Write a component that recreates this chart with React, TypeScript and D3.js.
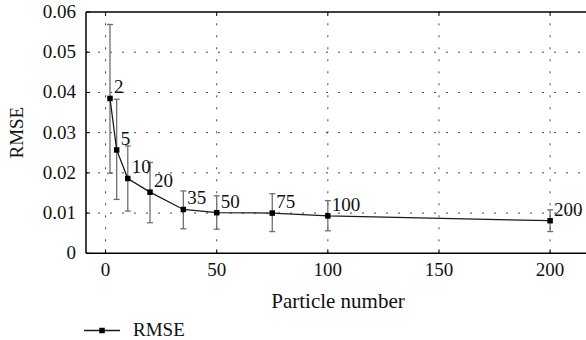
import React from "react";
import * as d3 from "d3";

const particles = [2, 5, 10, 20, 35, 50, 75, 100, 200];
const rmse = [0.0385, 0.0257, 0.0186, 0.0152, 0.0109, 0.0101, 0.01, 0.0093, 0.0081];
const errLow = [0.0199, 0.0134, 0.0105, 0.0076, 0.0061, 0.006, 0.0054, 0.0056, 0.0054];
const errHigh = [0.0569, 0.0383, 0.0267, 0.0226, 0.0155, 0.0143, 0.0148, 0.0131, 0.0108];
const xTicks = [0, 50, 100, 150, 200];
const yTicks = [0, 0.01, 0.02, 0.03, 0.04, 0.05, 0.06];

const W = 586;
const H = 340;
const FONT = "\"Liberation Serif\", \"DejaVu Serif\", \"Times New Roman\", serif";

export default function App() {
  const left = 86;
  const right = 589;
  const top = 12;
  const bottom = 253.3;
  const x = d3.scaleLinear().domain([-8.8, 217.5]).range([left, right]);
  const y = d3.scaleLinear().domain([0, 0.06]).range([bottom, top]);
  const line = d3
    .line<number>()
    .x((_, i) => x(particles[i]))
    .y((d) => y(d));
  const ms = 5.5;
  const cap = 3;
  return (
    <svg
      width={W}
      height={H}
      style={{ position: "absolute", left: 0, top: 0, background: "#fff", fontFamily: FONT }}
    >
      <rect x={0} y={0} width={W} height={H} fill="#fff" />
      {/* grid */}
      {yTicks.slice(1, -1).map((t) => (
        <line
          key={"gy" + t}
          x1={left}
          x2={right}
          y1={y(t)}
          y2={y(t)}
          stroke="#444"
          strokeWidth={1}
          strokeDasharray="2,10"
        />
      ))}
      {xTicks.map((t) => (
        <line
          key={"gx" + t}
          x1={x(t)}
          x2={x(t)}
          y1={bottom}
          y2={top}
          stroke="#444"
          strokeWidth={1}
          strokeDasharray="2,10"
        />
      ))}
      {/* frame */}
      <line x1={left} x2={left} y1={top} y2={bottom} stroke="#000" strokeWidth={1.5} />
      <line x1={left} x2={right} y1={bottom} y2={bottom} stroke="#000" strokeWidth={1.5} />
      <line x1={left} x2={right} y1={top} y2={top} stroke="#000" strokeWidth={1.5} />
      {/* ticks */}
      {yTicks.map((t) => (
        <g key={"ty" + t}>
          <line x1={left} x2={left + 4} y1={y(t)} y2={y(t)} stroke="#000" strokeWidth={1} />
          <text
            x={left - 10}
            y={y(t) + 6}
            textAnchor="end"
            fontSize={19}
            fill="#111"
            style={{ fontFamily: FONT }}
          >
            {t === 0 ? "0" : t.toFixed(2)}
          </text>
        </g>
      ))}
      {xTicks.map((t) => (
        <g key={"tx" + t}>
          <line x1={x(t)} x2={x(t)} y1={bottom} y2={bottom - 4} stroke="#000" strokeWidth={1} />
          <line x1={x(t)} x2={x(t)} y1={top} y2={top + 4} stroke="#000" strokeWidth={1} />
          <text
            x={x(t)}
            y={bottom + 23}
            textAnchor="middle"
            fontSize={19}
            fill="#111"
            style={{ fontFamily: FONT }}
          >
            {t}
          </text>
        </g>
      ))}
      {/* error bars */}
      {particles.map((p, i) => (
        <g key={"e" + p} stroke="#6e6e6e" strokeWidth={1.3}>
          <line x1={x(p)} x2={x(p)} y1={y(errLow[i])} y2={y(errHigh[i])} />
          <line x1={x(p) - cap} x2={x(p) + cap} y1={y(errLow[i])} y2={y(errLow[i])} />
          <line x1={x(p) - cap} x2={x(p) + cap} y1={y(errHigh[i])} y2={y(errHigh[i])} />
        </g>
      ))}
      {/* line */}
      <path d={line(rmse) || ""} fill="none" stroke="#1a1a1a" strokeWidth={1.3} />
      {particles.map((p, i) => (
        <rect
          key={"m" + p}
          x={x(p) - ms / 2}
          y={y(rmse[i]) - ms / 2}
          width={ms}
          height={ms}
          fill="#000"
        />
      ))}
      {particles.map((p, i) => (
        <text
          key={"l" + p}
          x={x(p) + 4}
          y={y(rmse[i]) - 5}
          fontSize={19}
          fill="#111"
          style={{ fontFamily: FONT }}
        >
          {p}
        </text>
      ))}
      {/* axis titles */}
      <text
        x={338}
        y={308}
        textAnchor="middle"
        fontSize={21}
        fill="#111"
        style={{ fontFamily: FONT }}
      >
        Particle number
      </text>
      <text
        transform={`translate(23, ${(top + bottom) / 2}) rotate(-90)`}
        textAnchor="middle"
        fontSize={19}
        fill="#111"
        style={{ fontFamily: FONT }}
      >
        RMSE
      </text>
      {/* legend */}
      <line x1={84} x2={120} y1={330.5} y2={330.5} stroke="#1a1a1a" strokeWidth={1.3} />
      <rect x={102 - ms / 2} y={330.5 - ms / 2} width={ms} height={ms} fill="#000" />
      <text x={133} y={336} fontSize={19} fill="#111" style={{ fontFamily: FONT }}>
        RMSE
      </text>
    </svg>
  );
}
